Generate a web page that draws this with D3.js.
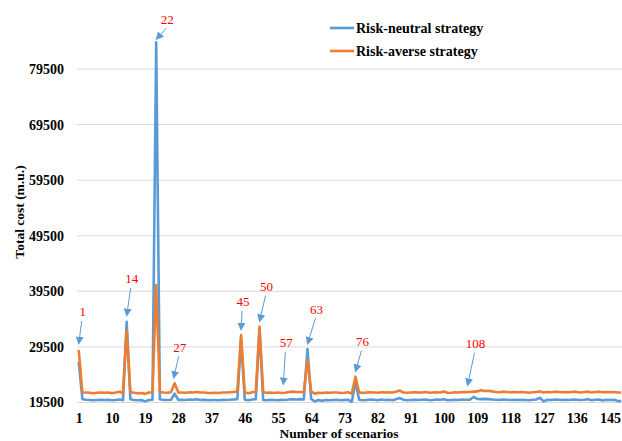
<!DOCTYPE html>
<html>
<head>
<meta charset="utf-8">
<script src="https://cdn.jsdelivr.net/npm/d3@7"></script>
<style>
  body { margin: 0; background: #fff; }
  svg text { font-family: "Liberation Serif", "Times New Roman", serif; }
</style>
</head>
<body>
<script>
// valeurs (scenarios 1..148)
const riskNeutral = [
  26800, 20100, 20000, 19950, 19900, 19950, 20000, 19950, 20000, 19900,
  19950, 20050, 19900, 34000, 20100, 19950, 19900, 19950, 19700, 19950,
  20000, 84300, 20100, 19950, 19950, 20000, 21100, 19950, 20000, 19950,
  20050, 20000, 20100, 19950, 20000, 19900, 19950, 19950, 19900, 20000,
  19950, 20000, 20050, 20100, 31000, 20000, 19900, 20050, 20100, 32600,
  19950, 19900, 20000, 19950, 19900, 20000, 19950, 20050, 20100, 20050,
  20100, 20050, 29100, 20100, 19700, 19950, 19800, 19950, 19900, 19950,
  20000, 19900, 19950, 20000, 19600, 23200, 20000, 19900, 19950, 20050,
  20000, 19900, 20050, 19950, 20000, 19900, 20100, 20300, 20000, 19900,
  19950, 20000, 19950, 20000, 20050, 19900, 19950, 20050, 20000, 20100,
  19900, 19950, 20000, 19950, 20050, 20000, 20000, 20500, 20150, 20100,
  20150, 20100, 20050, 20000, 19950, 20050, 20000, 19950, 20000, 19950,
  20000, 19950, 19900, 20000, 20050, 20350, 19700, 20000, 19950, 20050,
  20000, 19950, 20000, 19950, 20050, 20000, 19950, 20000, 20100, 19900,
  20000, 20050, 19850, 20000, 19950, 20000, 19800, 19750
]
const riskAverse = [
  28950, 21300, 21300, 21250, 21150, 21250, 21300, 21250, 21300, 21150,
  21300, 21450, 21200, 32500, 21400, 21250, 21150, 21200, 21050, 21300,
  21350, 40650, 21400, 21300, 21250, 21350, 22950, 21300, 21300, 21250,
  21350, 21300, 21400, 21300, 21300, 21200, 21200, 21250, 21200, 21300,
  21300, 21350, 21400, 21500, 31650, 21300, 21150, 21350, 21450, 33150,
  21350, 21250, 21300, 21200, 21300, 21200, 21250, 21400, 21450, 21400,
  21400, 21350, 27150, 21450, 21100, 21250, 21200, 21300, 21250, 21300,
  21300, 21200, 21250, 21350, 21100, 24150, 21350, 21200, 21300, 21350,
  21300, 21250, 21350, 21300, 21350, 21300, 21450, 21650, 21300, 21250,
  21300, 21350, 21300, 21300, 21400, 21250, 21300, 21350, 21300, 21500,
  21200, 21250, 21350, 21300, 21400, 21350, 21400, 21450, 21500, 21700,
  21550, 21600, 21500, 21400, 21350, 21450, 21400, 21350, 21400, 21350,
  21400, 21350, 21250, 21350, 21400, 21500, 21300, 21400, 21350, 21450,
  21400, 21350, 21400, 21350, 21450, 21400, 21300, 21400, 21450, 21300,
  21400, 21450, 21350, 21400, 21350, 21400, 21300, 21300
]
const seriesNames = ['Risk-neutral strategy', 'Risk-averse strategy']
const xTicks = [1, 10, 19, 28, 37, 46, 55, 64, 73, 82, 91, 100, 109, 118, 127, 136, 145]
const yTicks = [19500, 29500, 39500, 49500, 59500, 69500, 79500]
const annotated = [1, 14, 22, 27, 45, 50, 57, 63, 76, 108]

const WIDTH = 622
const HEIGHT = 441
const LEFT = 77
const X0 = 78.7 // position du scenario 1
const STEP = 3.69 // pixels par scenario
const COLORS = ['#5b9bd5', '#ed7d31']

// decalages des etiquettes rouges (texte / pointe de fleche), en pixels
const ANNOT_LAYOUT = {
  1:   { tip: [0, -6],  text: [4, -38] },
  14:  { tip: [0, -6],  text: [5, -43] },
  22:  { tip: [0, -3],  text: [11, -23] },
  27:  { tip: [-1, -5], text: [5, -36] },
  45:  { tip: [0, -5],  text: [2, -33] },
  50:  { tip: [0, -5],  text: [7, -40] },
  57:  { tip: [-2, -8], text: [1, -50] },
  63:  { tip: [0, -5],  text: [9, -40] },
  76:  { tip: [0, -5],  text: [7, -35] },
  108: { tip: [-6, -6], text: [2, -48] }
}

const n = riskNeutral.length
const scen = d3.range(1, n + 1)

const x = d3.scaleLinear()
  .domain([1, n])
  .range([X0, X0 + (n - 1) * STEP])
const y = d3.scaleLinear()
  .domain([19500, 79500])
  .range([402.5, 69])

const svg = d3.select('body').append('svg')
  .attr('width', WIDTH).attr('height', HEIGHT)

// quadrillage
svg.append('g').selectAll('line')
  .data(yTicks)
  .enter().append('line')
  .attr('x1', LEFT).attr('x2', WIDTH)
  .attr('y1', d => y(d)).attr('y2', d => y(d))
  .attr('stroke', '#d9d9d9').attr('stroke-width', 1)

// axe Y
const axisY = d3.axisLeft(y).tickValues(yTicks).tickSize(0).tickPadding(0)
  .tickFormat(d3.format('d'))
svg.append('g')
  .attr('transform', `translate(64, 0)`)
  .call(axisY)
  .call(g => g.select('.domain').remove())
  .selectAll('text')
  .attr('font-family', '"Liberation Serif", serif')
  .attr('font-size', 14)
  .attr('font-weight', 'bold')
  .attr('fill', '#000')

// axe X
const axisX = d3.axisBottom(x).tickValues(xTicks).tickSize(0).tickPadding(0)
  .tickFormat(d3.format('d'))
svg.append('g')
  .attr('transform', `translate(0, 413)`)
  .call(axisX)
  .call(g => g.select('.domain').remove())
  .selectAll('text')
  .attr('font-family', '"Liberation Serif", serif')
  .attr('font-size', 14)
  .attr('font-weight', 'bold')
  .attr('fill', '#000')

// titres des axes
svg.append('text')
  .attr('x', 339).attr('y', 438)
  .attr('text-anchor', 'middle')
  .attr('font-size', 13.5).attr('font-weight', 'bold')
  .text('Number of scenarios')
svg.append('text')
  .attr('transform', 'translate(24, 212) rotate(-90)')
  .attr('text-anchor', 'middle')
  .attr('font-size', 13.5).attr('font-weight', 'bold')
  .text('Total cost (m.u.)')

// courbes
const line = d3.line().x((d, i) => x(scen[i])).y(d => y(d))
const plot = svg.append('g')
;[riskNeutral, riskAverse].forEach((serie, k) => {
  plot.append('path')
    .datum(serie)
    .attr('d', line)
    .attr('fill', 'none')
    .attr('stroke', COLORS[k])
    .attr('stroke-width', 2.6)
    .attr('stroke-linejoin', 'round')
})

// legende
const legend = svg.append('g')
seriesNames.forEach((name, k) => {
  const ly = 28 + k * 23
  legend.append('line')
    .attr('x1', 330).attr('x2', 354)
    .attr('y1', ly).attr('y2', ly)
    .attr('stroke', COLORS[k]).attr('stroke-width', 2.6)
  legend.append('text')
    .attr('x', 356).attr('y', ly + 4.5)
    .attr('font-size', 14).attr('font-weight', 'bold')
    .text(name)
})

// fleches et numeros de scenarios
svg.append('defs').append('marker')
  .attr('id', 'arrow')
  .attr('viewBox', '0 0 10 10')
  .attr('refX', 9).attr('refY', 5)
  .attr('markerWidth', 8).attr('markerHeight', 8)
  .attr('markerUnits', 'userSpaceOnUse')
  .attr('orient', 'auto')
  .append('path')
  .attr('d', 'M0,0 L10,5 L0,10 z')
  .attr('fill', COLORS[0])

const notes = svg.append('g')
annotated.forEach(s => {
  const lay = ANNOT_LAYOUT[s]
  const top = Math.max(riskNeutral[s - 1], riskAverse[s - 1])
  const tx = x(s) + lay.tip[0]
  const ty = y(top) + lay.tip[1]
  const lx = x(s) + lay.text[0]
  const lyy = y(top) + lay.text[1]
  notes.append('line')
    .attr('x1', lx - 1).attr('y1', lyy + 9)
    .attr('x2', tx).attr('y2', ty)
    .attr('stroke', COLORS[0]).attr('stroke-width', 1)
    .attr('marker-end', 'url(#arrow)')
  notes.append('text')
    .attr('x', lx).attr('y', lyy + 4.5)
    .attr('text-anchor', 'middle')
    .attr('font-size', 13)
    .attr('fill', '#ff0000')
    .text(s)
})
</script>
</body>
</html>
